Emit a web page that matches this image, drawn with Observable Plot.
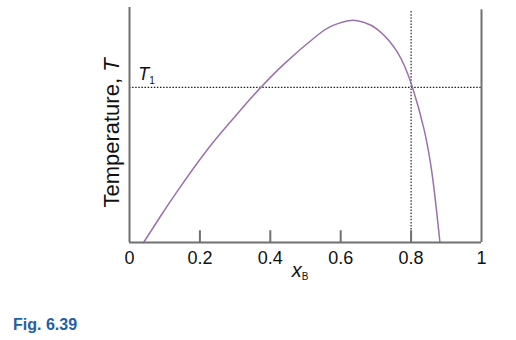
<!DOCTYPE html>
<html>
<head>
<meta charset="utf-8">
<script src="https://cdn.jsdelivr.net/npm/d3@7"></script>
<script src="https://cdn.jsdelivr.net/npm/@observablehq/plot@0.6"></script>
<style>
  html, body { margin: 0; padding: 0; background: #fff; }
  #wrap { position: relative; width: 516px; height: 340px; }
  #caption { position: absolute; left: 13px; top: 316px; font-family: "Liberation Sans Narrow", "Liberation Sans", Arial, sans-serif; font-weight: bold; font-size: 16px; color: #2260a6; }
</style>
</head>
<body>
<div id="wrap"><div id="chart"></div><div id="caption">Fig. 6.39</div></div>
<script>
// composition x_B and temperature T (relative units, 0 = bottom, 1 = top of axis)
const xB = [0.040, 0.090, 0.139, 0.215, 0.280, 0.339, 0.372, 0.438, 0.533, 0.580, 0.628, 0.665, 0.704, 0.761, 0.804, 0.837, 0.861, 0.882];
const temp = [0.000, 0.116, 0.225, 0.383, 0.502, 0.604, 0.658, 0.758, 0.881, 0.925, 0.945, 0.937, 0.907, 0.810, 0.660, 0.480, 0.277, 0.000];
const T1 = 0.66;
const xMark = 0.8;
const tickValues = [0, 0.2, 0.4, 0.6, 0.8, 1];
const tickLabels = ["0", "0.2", "0.4", "0.6", "0.8", "1"];
const innerTicks = [0.2, 0.4, 0.6, 0.8];

const curve = xB.map((x, i) => ({x, t: temp[i]}));
const ticks = tickValues.map((v, i) => ({v, label: tickLabels[i]}));
const font = "'Liberation Sans', Arial, sans-serif";

const plot = Plot.plot({
  width: 516,
  height: 300,
  marginLeft: 129,
  marginRight: 35,
  marginTop: 7,
  marginBottom: 58,
  x: {domain: [0, 1], axis: null},
  y: {domain: [0, 1], axis: null},
  style: {fontFamily: font, background: "#fff"},
  marks: [
    Plot.text(ticks, {x: "v", text: "label", frameAnchor: "bottom", lineAnchor: "top", dy: 9, fill: "#111", fontSize: 18}),
    Plot.ruleY([T1], {stroke: "#222", strokeWidth: 1.2, strokeDasharray: "1.5,1.6"}),
    Plot.ruleX([xMark], {y1: 0, y2: 0.985, stroke: "#222", strokeWidth: 1.2, strokeDasharray: "1.5,1.6"}),
    Plot.line(curve, {x: "x", y: "t", curve: "natural", stroke: "#9a72aa", strokeWidth: 1.5}),
    Plot.ruleX(innerTicks, {y1: 0, y2: 0.05, stroke: "#707070", strokeWidth: 2}),
    Plot.ruleX([0], {y1: 0, y2: 1, stroke: "#707070", strokeWidth: 2}),
    Plot.ruleX([1], {y1: 0, y2: 0.99, stroke: "#707070", strokeWidth: 2}),
    Plot.ruleY([0], {x1: 0, x2: 1, stroke: "#707070", strokeWidth: 2})
  ]
});
document.getElementById("chart").appendChild(plot);

// labels with subscripts
const svg = d3.select(plot);
const sx = plot.scale("x"), sy = plot.scale("y");
const xl = svg.append("text")
  .attr("x", sx.apply(0.5) - 5).attr("y", 277)
  .style("font-family", font).style("fill", "#111");
xl.append("tspan").style("font-size", "20px").style("font-style", "italic").text("x");
xl.append("tspan").style("font-size", "10px").attr("dy", 3).text("B");

const tl = svg.append("text")
  .attr("x", sx.apply(0.05)).attr("y", sy.apply(T1) - 7)
  .style("font-family", font).style("fill", "#111");
tl.append("tspan").style("font-size", "18px").style("font-style", "italic").text("T");
tl.append("tspan").style("font-size", "10px").attr("dy", 4).text("1");

const yl = svg.append("text")
  .attr("transform", `translate(119,133) rotate(-90)`)
  .attr("text-anchor", "middle")
  .style("font-family", font).style("font-size", "22px").style("fill", "#111");
yl.append("tspan").text("Temperature, ");
yl.append("tspan").style("font-style", "italic").text("T");
</script>
</body>
</html>
